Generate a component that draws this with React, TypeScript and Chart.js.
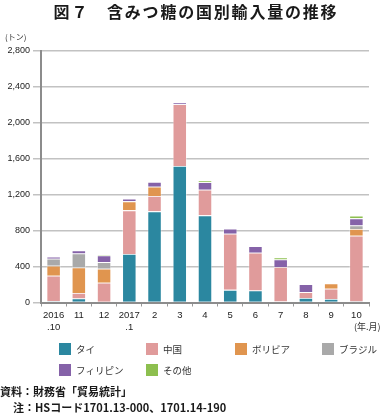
import React, { useEffect, useRef } from "react";
import { Chart, registerables } from "chart.js";

Chart.register(...registerables);

const categories: (string | string[])[] = [
  ["2016", ".10"], "11", "12", ["2017", ".1"], "2", "3", "4", "5", "6", "7", "8", "9", "10",
];
const thai = [15, 45, 0, 540, 1015, 1520, 970, 141, 134, 10, 50, 40, 12];
const china = [282, 60, 220, 486, 171, 687, 286, 625, 420, 385, 66, 113, 732];
const bolivia = [112, 285, 156, 100, 104, 0, 0, 0, 0, 0, 0, 59, 74];
const brazil = [78, 156, 74, 0, 0, 0, 0, 0, 0, 0, 0, 0, 40];
const philippines = [22, 34, 74, 30, 52, 19, 82, 56, 74, 85, 89, 0, 79];
const others = [0, 0, 11, 0, 0, 0, 22, 0, 0, 22, 0, 0, 30];
const seriesNames = ["タイ", "中国", "ボリビア", "ブラジル", "フィリピン", "その他"];
const seriesColors = ["#2b87a0", "#e09b9b", "#e0954f", "#a9a9a9", "#8562a8", "#8dbf4f"];
const yTicksMax = 2800;
const yTickStep = 400;

const FONT = "'Liberation Sans', 'Noto Sans CJK JP', sans-serif";
const JFONT = "'Noto Sans CJK JP', 'Liberation Sans', sans-serif";

export default function App() {
  const ref = useRef<HTMLCanvasElement>(null);

  useEffect(() => {
    document.body.style.margin = "0";
    const canvas = ref.current!;
    const values = [thai, china, bolivia, brazil, philippines, others];

    const textPlugin = {
      id: "extraText",
      afterDraw(chart: any) {
        const ctx = chart.ctx as CanvasRenderingContext2D;
        ctx.save();
        // title
        ctx.fillStyle = "#1a1a1a";
        ctx.textAlign = "center";
        ctx.textBaseline = "middle";
        ctx.font = `bold 16px ${JFONT}`;
        (ctx as any).letterSpacing = "1.8px";
        ctx.fillText("図７　含みつ糖の国別輸入量の推移", 196, 12);
        (ctx as any).letterSpacing = "0px";
        // unit
        ctx.font = `8px ${JFONT}`;
        ctx.textAlign = "left";
        ctx.fillStyle = "#333";
        ctx.fillText("(トン)", 5, 37);
        ctx.font = `9px ${JFONT}`;
        ctx.fillText("(年.月)", 354, 327);
        // legend
        const cols = [59, 146, 235, 322];
        const rows = [349, 370];
        ctx.font = `9.5px ${JFONT}`;
        chart.data.datasets.forEach((ds: any, i: number) => {
          const cx = cols[i % 4];
          const cy = rows[Math.floor(i / 4)];
          ctx.fillStyle = ds.backgroundColor;
          ctx.fillRect(cx, cy - 6, 12, 12);
          ctx.fillStyle = "#333";
          ctx.fillText(ds.label, cx + 17, cy);
        });
        // footer
        ctx.fillStyle = "#1a1a1a";
        ctx.font = `bold 11px ${JFONT}`;
        ctx.fillText("資料：財務省「貿易統計」", 0, 392);
        ctx.fillText("注：HSコード1701.13-000、1701.14-190", 13, 408);
        ctx.restore();
      },
    };

    const chart = new Chart(canvas, {
      type: "bar",
      data: {
        labels: categories,
        datasets: values.map((v, i) => ({
          label: seriesNames[i],
          data: v,
          backgroundColor: seriesColors[i],
          borderColor: "rgba(255,255,255,0.55)",
          borderWidth: 0.8,
          categoryPercentage: 1,
          barPercentage: 0.56,
        })),
      },
      options: {
        animation: false,
        responsive: false,
        devicePixelRatio: 1,
        layout: { padding: { left: 0, top: 51, right: 16, bottom: 71.5 } },
        plugins: { legend: { display: false }, title: { display: false }, tooltip: { enabled: false } },
        scales: {
          x: {
            stacked: true,
            grid: { display: true, drawOnChartArea: false, drawTicks: true, tickLength: 4, color: "#999", lineWidth: 1, offset: true },
            border: { color: "#8c8c8c", width: 2 },
            ticks: { font: { size: 9.5, family: FONT, lineHeight: 1.25 }, color: "#222", padding: 3, maxRotation: 0, autoSkip: false },
            afterFit: (s: any) => { s.height = 40; },
          },
          y: {
            stacked: true,
            min: 0,
            max: yTicksMax,
            ticks: { stepSize: yTickStep, font: { size: 9, family: FONT }, color: "#222", padding: 3 },
            grid: { color: "#c2c2c2", lineWidth: 1.5, tickLength: 8 },
            border: { color: "#8c8c8c", width: 2 },
            afterFit: (s: any) => { s.width = 41; },
          },
        },
      },
      plugins: [textPlugin],
    });
    return () => chart.destroy();
  }, []);

  return <canvas ref={ref} width={385} height={414} style={{ display: "block", width: 385, height: 414 }} />;
}
